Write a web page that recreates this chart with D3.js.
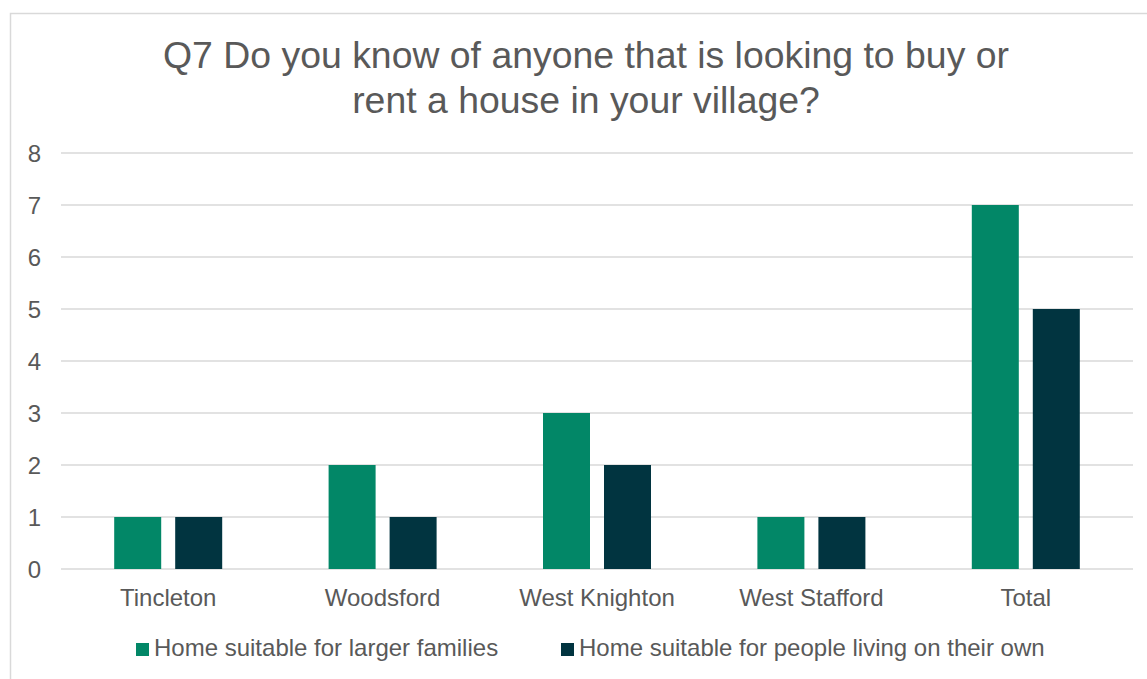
<!DOCTYPE html>
<html>
<head>
<meta charset="utf-8">
<script src="https://cdn.jsdelivr.net/npm/d3@7"></script>
<style>
  html, body { margin: 0; padding: 0; background: #fff; }
  svg { display: block; font-family: "Liberation Sans", Arial, sans-serif; }
</style>
</head>
<body>
<svg id="chart" width="1147" height="679"></svg>
<script>
const titleLines = ["Q7 Do you know of anyone that is looking to buy or", "rent a house in your village?"];
const categories = ["Tincleton", "Woodsford", "West Knighton", "West Stafford", "Total"];
const seriesNames = ["Home suitable for larger families", "Home suitable for people living on their own"];
const largerFamilies = [1, 2, 3, 1, 7];
const livingOnOwn = [1, 1, 2, 1, 5];
const yTicks = [0, 1, 2, 3, 4, 5, 6, 7, 8];
const colors = ["#028767", "#013440"];

const seriesValues = [largerFamilies, livingOnOwn];
const svg = d3.select("#chart");
const textColor = "#595959";

// border
svg.append("rect").attr("x", 10.5).attr("y", 13.5).attr("width", 1150).attr("height", 700)
  .attr("fill", "#fff").attr("stroke", "#d9d9d9").attr("stroke-width", 1.5);

// title
svg.append("text").attr("x", 586).attr("y", 68).attr("text-anchor", "middle")
  .attr("font-size", 37.4).attr("fill", textColor)
  .selectAll("tspan").data(titleLines).join("tspan")
  .attr("x", 586).attr("dy", (d, i) => i === 0 ? 0 : 45).text(d => d);

const plot = { left: 61, right: 1133, top: 153, bottom: 569 };
const x0 = d3.scaleBand().domain(categories).range([plot.left, plot.right]).padding(0);
const groupW = 108;
const x1 = d3.scaleBand().domain(seriesNames).range([0, groupW]).paddingInner(14 / 61);
const y = d3.scaleLinear().domain([0, 8]).range([plot.bottom, plot.top]);

// gridlines
svg.append("g").selectAll("line").data(yTicks).join("line")
  .attr("x1", plot.left).attr("x2", plot.right)
  .attr("y1", d => y(d)).attr("y2", d => y(d))
  .attr("stroke", "#d9d9d9").attr("stroke-width", 1.5);

// y axis labels
const yAxis = d3.axisLeft(y).tickValues(yTicks).tickSize(0).tickPadding(0).tickFormat(d3.format("d"));
const gy = svg.append("g").attr("transform", `translate(41,0)`).call(yAxis);
gy.select(".domain").remove();
gy.selectAll("text").attr("font-size", 24).attr("fill", textColor)
  .attr("font-family", "Liberation Sans, Arial, sans-serif").attr("dy", "0.36em");

// bars
const groups = svg.append("g").selectAll("g").data(categories).join("g")
  .attr("transform", c => `translate(${x0(c) + (x0.bandwidth() - groupW) / 2},0)`);
groups.selectAll("rect").data((c, ci) => seriesNames.map((s, si) => ({ s, si, v: seriesValues[si][ci] })))
  .join("rect")
  .attr("x", d => x1(d.s)).attr("width", x1.bandwidth())
  .attr("y", d => y(d.v)).attr("height", d => y(0) - y(d.v))
  .attr("fill", d => colors[d.si]);

// x axis labels
const xAxis = d3.axisBottom(x0).tickSize(0).tickPadding(0);
const gx = svg.append("g").attr("transform", `translate(0,${plot.bottom})`).call(xAxis);
gx.select(".domain").remove();
gx.selectAll("text").attr("font-size", 24).attr("fill", textColor)
  .attr("font-family", "Liberation Sans, Arial, sans-serif").attr("dy", null).attr("y", 37);

// legend
const legend = svg.append("g");
const legendX = [136, 561];
seriesNames.forEach((name, i) => {
  legend.append("rect").attr("x", legendX[i]).attr("y", 643).attr("width", 13).attr("height", 13).attr("fill", colors[i]);
  legend.append("text").attr("x", legendX[i] + 18).attr("y", 656).attr("font-size", 24).attr("fill", textColor).text(name);
});
</script>
</body>
</html>
